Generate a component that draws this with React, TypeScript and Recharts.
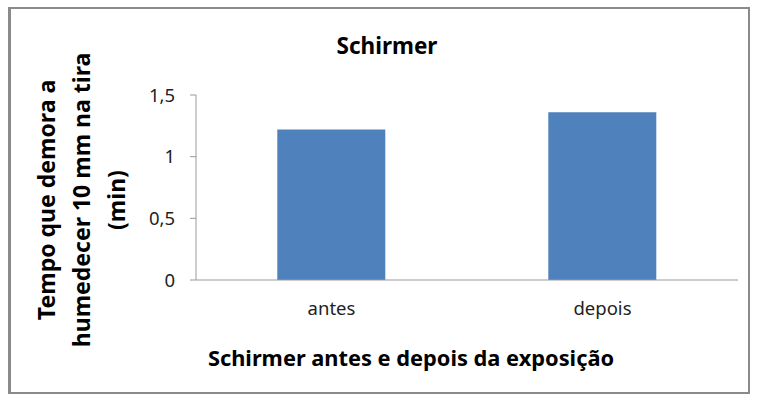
import React from "react";
import { BarChart, Bar, XAxis, YAxis } from "recharts";

const categories = ["antes", "depois"];
const values = [1.22, 1.36];
const yTicks = [0, 0.5, 1, 1.5];
const edgeTicks = [0, 1, 2];
const title = "Schirmer";
const xTitle = "Schirmer antes e depois da exposição";
const yTitleLines = ["Tempo que demora a", "humedecer  10 mm na tira", "(min)"];

const data = categories.map((c, i) => ({ name: c, value: values[i] }));

const FONT = "'Noto Sans', 'DejaVu Sans', sans-serif";
const AXIS_COLOR = "#9a9a9a";

export default function App() {
  const W = 757;
  const H = 394;
  const yCenter = 200;
  const lineX = [46, 81, 116];
  return (
    <div style={{ position: "absolute", left: 0, top: 0, width: W, height: H, background: "#fff", fontFamily: FONT }}>
      <div
        style={{
          position: "absolute",
          left: 8,
          top: 7,
          width: 742,
          height: 387,
          border: "2px solid #8a8a8a",
          borderLeftWidth: 3,
          boxSizing: "border-box",
        }}
      />
      <div style={{ position: "absolute", left: 0, top: 0 }}>
        <BarChart width={W} height={H} data={data} margin={{ top: 95, right: 19, bottom: 73, left: 150 }} barCategoryGap="30%">
          <XAxis
            xAxisId="a_edges"
            type="number"
            domain={[0, 2]}
            ticks={edgeTicks}
            tick={false}
            height={1}
            tickSize={6}
            axisLine={{ stroke: AXIS_COLOR }}
            tickLine={{ stroke: AXIS_COLOR }}
            allowDataOverflow
          />
          <XAxis
            xAxisId="b_cat"
            dataKey="name"
            height={40}
            axisLine={false}
            tickLine={false}
            tickSize={0}
            tickMargin={21}
            tick={{ fill: "#222", fontSize: 18.5, fontFamily: FONT }}
          />
          <YAxis
            domain={[0, 1.5]}
            ticks={yTicks}
            width={46}
            tickSize={6}
            tickMargin={15}
            axisLine={{ stroke: AXIS_COLOR }}
            tickLine={{ stroke: AXIS_COLOR }}
            tick={{ fill: "#222", fontSize: 18.5, fontFamily: FONT }}
            tickFormatter={(v: number) => String(v).replace(".", ",")}
          />
          <Bar xAxisId="b_cat" dataKey="value" fill="#4f81bd" isAnimationActive={false} />
          <text x={387} y={54} textAnchor="middle" fontFamily={FONT} fontWeight="bold" fontSize={22.5} fill="#000">
            {title}
          </text>
          <text x={411} y={366} textAnchor="middle" fontFamily={FONT} fontWeight="bold" fontSize={21.8} fill="#000">
            {xTitle}
          </text>
          {yTitleLines.map((t, i) => (
            <text
              key={i}
              x={lineX[i]}
              y={yCenter}
              textAnchor="middle"
              dominantBaseline="central"
              transform={`rotate(-90 ${lineX[i]} ${yCenter})`}
              fontFamily={FONT}
              fontWeight="bold"
              fontSize={23}
              fill="#000"
            >
              {t}
            </text>
          ))}
        </BarChart>
      </div>
    </div>
  );
}
